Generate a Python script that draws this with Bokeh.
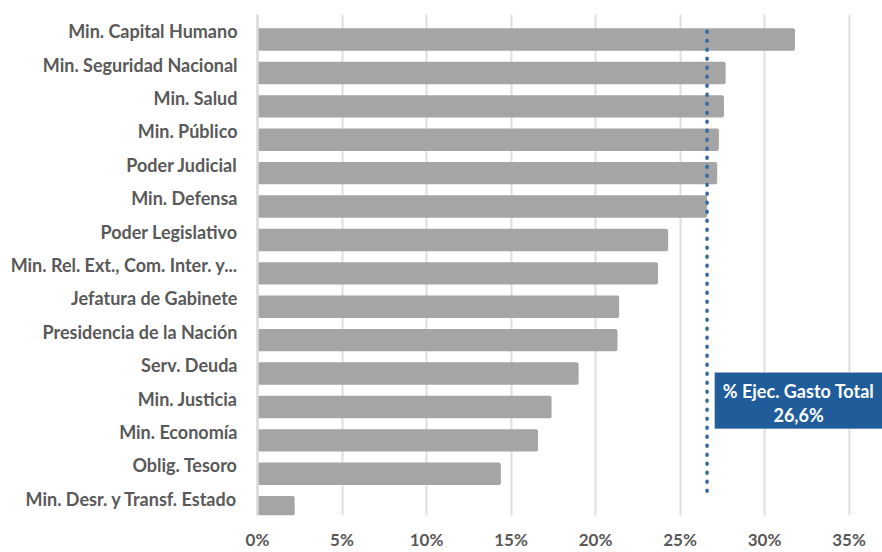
from bokeh.plotting import figure
from bokeh.models import (ColumnDataSource, FixedTicker, Range1d, FactorRange,
                          Label, BoxAnnotation)
from bokeh.transform import dodge
from bokeh.embed import file_html
from bokeh.resources import INLINE

# ---- data ----
categories = [
    "Min. Capital Humano",
    "Min. Seguridad Nacional",
    "Min. Salud",
    "Min. Público",
    "Poder Judicial",
    "Min. Defensa",
    "Poder Legislativo",
    "Min. Rel. Ext., Com. Inter. y...",
    "Jefatura de Gabinete",
    "Presidencia de la Nación",
    "Serv. Deuda",
    "Min. Justicia",
    "Min. Economía",
    "Oblig. Tesoro",
    "Min. Desr. y Transf. Estado",
]
ejecucion = [31.8, 27.7, 27.6, 27.3, 27.2, 26.6, 24.3, 23.7, 21.4, 21.3,
             19.0, 17.4, 16.6, 14.4, 2.2]
ejec_total = 26.6
x_ticks = [0, 5, 10, 15, 20, 25, 30, 35]
x_tick_labels = ["0%", "5%", "10%", "15%", "20%", "25%", "30%", "35%"]
annot_title = "% Ejec. Gasto Total"
annot_value = "26,6%"

FONT = "Lato"
TXT = "#595959"
X_MAX = 36.98  # axis extends a little past 35% so the callout box fits

src = ColumnDataSource(dict(cat=categories, val=ejecucion))

p = figure(width=882, height=552, output_backend="svg", toolbar_location=None,
           y_range=FactorRange(factors=list(reversed(categories))),
           x_range=Range1d(0, X_MAX),
           min_border_left=257, min_border_right=0, min_border_top=14,
           min_border_bottom=33)
p.outline_line_color = None
p.background_fill_color = "white"
p.border_fill_color = "white"

p.hbar(y=dodge("cat", -0.25, range=p.y_range), left=0, right="val", height=0.67,
       source=src, fill_color="#a5a5a5", line_color=None, border_radius=2)

p.segment(x0=[ejec_total], x1=[ejec_total], y0=[categories[0]], y1=[categories[-1]],
          line_color="#2e6aa6", line_width=3.5, line_dash="1 8", line_cap="round")

# grid
p.xgrid.ticker = FixedTicker(ticks=x_ticks[1:])
p.xgrid.grid_line_color = "#bdbdbd"
p.xgrid.grid_line_width = 2
p.xgrid.grid_line_dash = "1 1"
p.ygrid.grid_line_color = None

# x axis
xa = p.xaxis[0]
xa.ticker = FixedTicker(ticks=x_ticks)
xa.major_label_overrides = {t: l for t, l in zip(x_ticks, x_tick_labels)}
xa.axis_line_color = None
xa.major_tick_line_color = None
xa.minor_tick_line_color = None
xa.major_tick_out = 0
xa.major_tick_in = 0
xa.major_label_standoff = 13
xa.major_label_text_font = FONT
xa.major_label_text_font_style = "bold"
xa.major_label_text_font_size = "17px"
xa.major_label_text_color = TXT

# y axis
ya = p.yaxis[0]
ya.axis_line_color = "#d9d9d9"
ya.axis_line_width = 2.5
ya.major_tick_line_color = None
ya.minor_tick_line_color = None
ya.major_tick_out = 0
ya.major_tick_in = 0
ya.major_label_standoff = 20
ya.major_label_text_font = FONT
ya.major_label_text_font_style = "bold"
ya.major_label_text_font_size = "18px"
ya.major_label_text_color = TXT

# callout box anchored at the "Min. Justicia" row (synthetic coordinate)
n = len(categories)
annot_row = n - 1 - categories.index("Min. Justicia") + 0.5
box_left = ejec_total + 0.45
p.add_layout(BoxAnnotation(left=box_left, right=X_MAX, top=annot_row + 0.78,
                           bottom=annot_row - 0.9, fill_color="#1f5c99",
                           fill_alpha=1, line_color="#bfbfbf", line_width=1,
                           level="annotation"))
cx = (box_left + X_MAX) / 2
for txt, off in [(annot_title, 8), (annot_value, -16)]:
    p.add_layout(Label(x=cx, y=annot_row, y_offset=off, text=txt,
                       text_align="center", text_baseline="middle",
                       text_font=FONT, text_font_style="bold",
                       text_font_size="18px", text_color="white"))

open("out.html", "w").write(file_html(p, INLINE))
